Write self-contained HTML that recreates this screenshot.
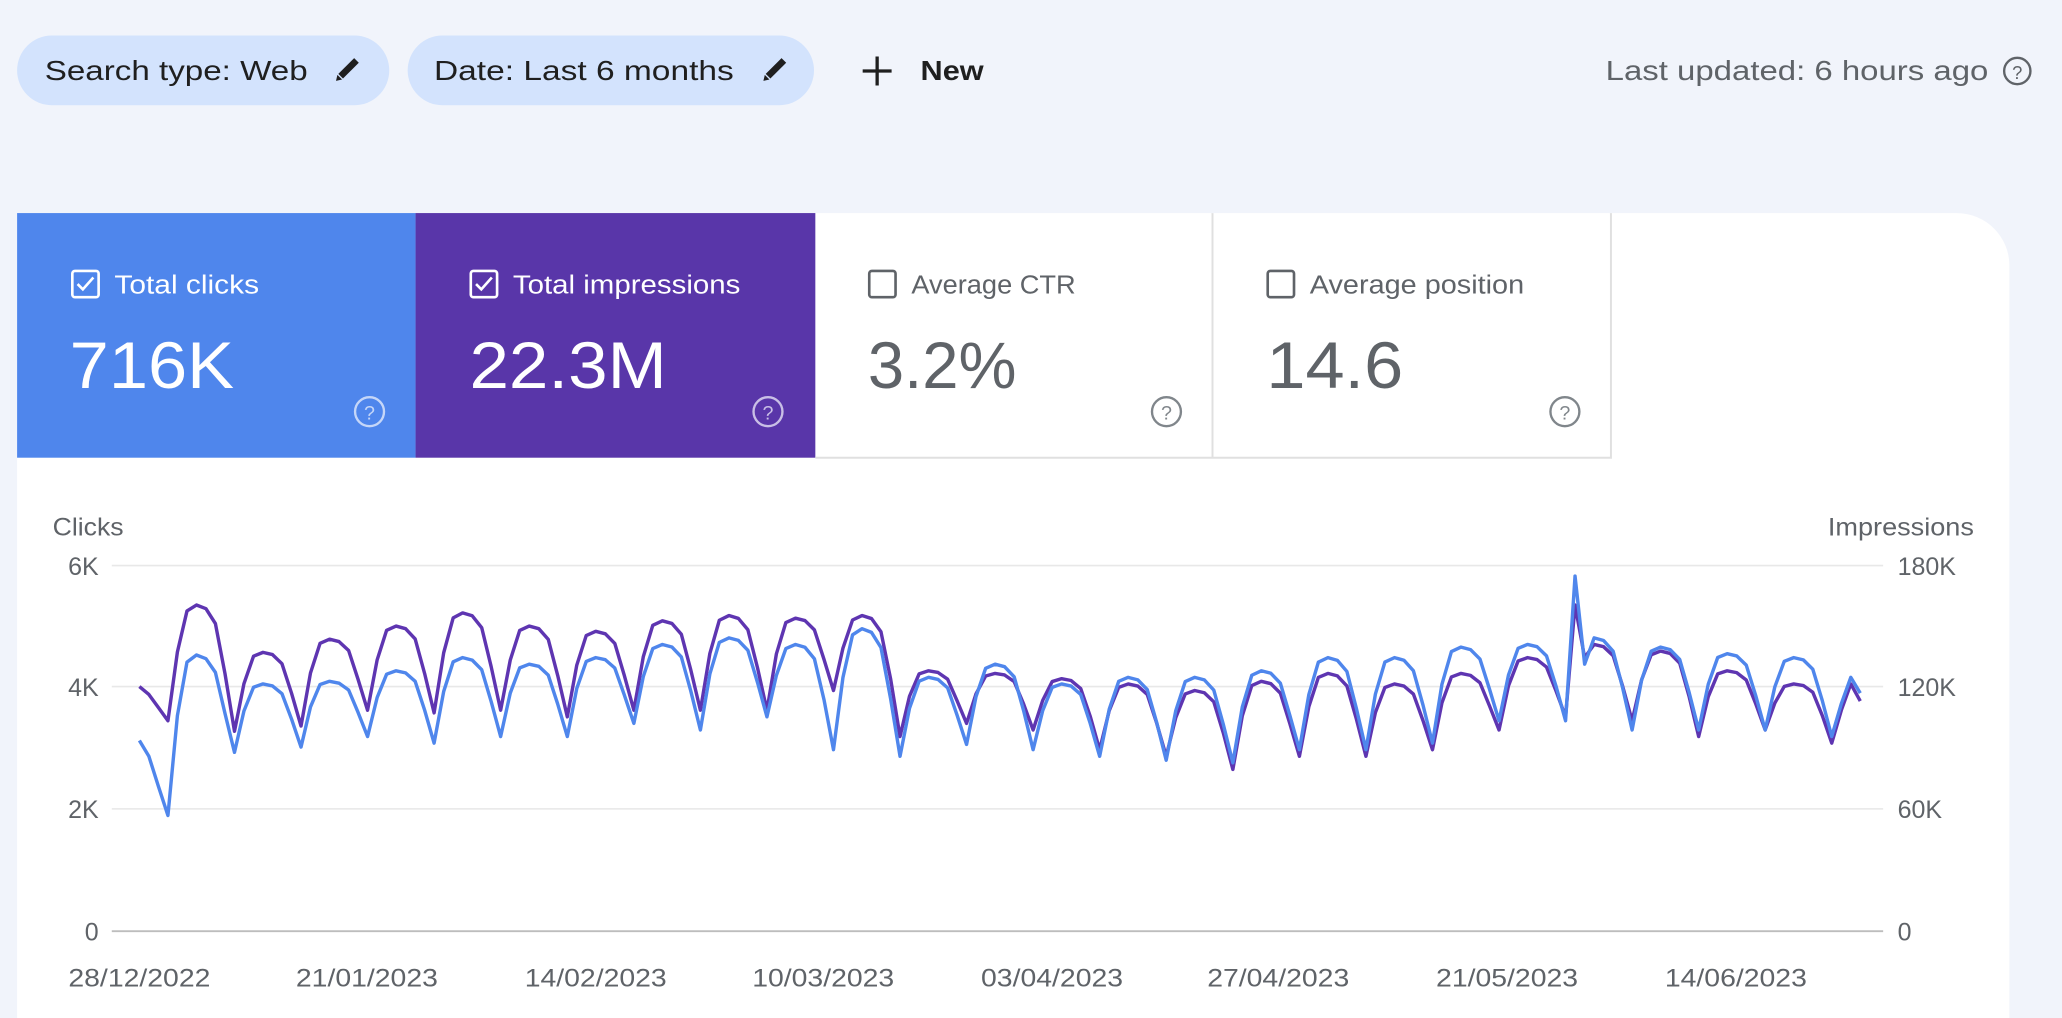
<!DOCTYPE html>
<html><head><meta charset="utf-8"><style>
html,body{margin:0;padding:0;background:#f1f4fb;}
svg{display:block;font-family:"Liberation Sans",sans-serif;}
</style></head><body>
<svg id="s" width="2062" height="1018" viewBox="0 0 1568 774" preserveAspectRatio="none" xmlns="http://www.w3.org/2000/svg">
<rect width="1568" height="774" fill="#f1f4fb"/>
<rect x="13" y="27" width="283" height="53" rx="26.5" fill="#d3e3fd"/>
<text x="34" y="61" font-size="21" fill="#1f1f1f" textLength="200" lengthAdjust="spacingAndGlyphs">Search type: Web</text>
<g transform="translate(264,53) rotate(45)"><rect x="-2.5" y="-10" width="5" height="17" fill="#1f1f1f"/><polygon points="-2.5,8 2.5,8 0,12" fill="#1f1f1f"/></g>
<rect x="310" y="27" width="309" height="53" rx="26.5" fill="#d3e3fd"/>
<text x="330" y="61" font-size="21" fill="#1f1f1f" textLength="228" lengthAdjust="spacingAndGlyphs">Date: Last 6 months</text>
<g transform="translate(589,53) rotate(45)"><rect x="-2.5" y="-10" width="5" height="17" fill="#1f1f1f"/><polygon points="-2.5,8 2.5,8 0,12" fill="#1f1f1f"/></g>
<path d="M667 43v22M656 54h22" stroke="#1f1f1f" stroke-width="2.5"/>
<text x="700" y="61" font-size="21" fill="#1f1f1f" font-weight="bold" textLength="48" lengthAdjust="spacingAndGlyphs">New</text>
<text x="1221" y="61" font-size="21" fill="#5f6368" textLength="291" lengthAdjust="spacingAndGlyphs">Last updated: 6 hours ago</text>
<circle cx="1534" cy="54" r="10" fill="none" stroke="#5f6368" stroke-width="1.8"/><text x="1534" y="60" font-size="14" fill="#5f6368" text-anchor="middle">?</text>

<path d="M13 162H1488a40 40 0 0 1 40 40V774H13Z" fill="#fff"/>
<rect x="13" y="162" width="303" height="186" fill="#4f86ec"/>
<rect x="316" y="162" width="304" height="186" fill="#5936a9"/>
<path d="M620 348H1225V162M922 162V348" stroke="#e0e0e0" stroke-width="1.5" fill="none"/>
<g font-size="20">
<rect x="55" y="206" width="20" height="20" rx="2" fill="none" stroke="#fff" stroke-width="2"/><path d="M59 216l4 4 8-9" stroke="#fff" stroke-width="2" fill="none"/>
<text x="87" y="223" fill="#fff" textLength="110" lengthAdjust="spacingAndGlyphs">Total clicks</text>
<rect x="358" y="206" width="20" height="20" rx="2" fill="none" stroke="#fff" stroke-width="2"/><path d="M362 216l4 4 8-9" stroke="#fff" stroke-width="2" fill="none"/>
<text x="390" y="223" fill="#fff" textLength="173" lengthAdjust="spacingAndGlyphs">Total impressions</text>
<rect x="661" y="206" width="20" height="20" rx="2" fill="none" stroke="#5f6368" stroke-width="2"/>
<text x="693" y="223" fill="#5f6368" textLength="125" lengthAdjust="spacingAndGlyphs">Average CTR</text>
<rect x="964" y="206" width="20" height="20" rx="2" fill="none" stroke="#5f6368" stroke-width="2"/>
<text x="996" y="223" fill="#5f6368" textLength="163" lengthAdjust="spacingAndGlyphs">Average position</text>
</g>
<g font-size="50">
<text x="53" y="295" fill="#fff" textLength="125" lengthAdjust="spacingAndGlyphs">716K</text>
<text x="357" y="295" fill="#fff" textLength="150" lengthAdjust="spacingAndGlyphs">22.3M</text>
<text x="660" y="295" fill="#5f6368" textLength="113" lengthAdjust="spacingAndGlyphs">3.2%</text>
<text x="963" y="295" fill="#5f6368" textLength="104" lengthAdjust="spacingAndGlyphs">14.6</text>
</g>
<g fill="none" stroke-width="1.8">
<circle cx="281" cy="313" r="11" stroke="#c5d6f8"/><circle cx="584" cy="313" r="11" stroke="#c9bfe6"/>
<circle cx="887" cy="313" r="11" stroke="#80868b"/><circle cx="1190" cy="313" r="11" stroke="#80868b"/>
</g>
<g font-size="15" text-anchor="middle">
<text x="281" y="319" fill="#c5d6f8">?</text><text x="584" y="319" fill="#c9bfe6">?</text>
<text x="887" y="319" fill="#80868b">?</text><text x="1190" y="319" fill="#80868b">?</text>
</g>

<g font-size="19" fill="#5f6368">
<text x="40" y="407" textLength="54" lengthAdjust="spacingAndGlyphs">Clicks</text>
<text x="1390" y="407" textLength="111" lengthAdjust="spacingAndGlyphs">Impressions</text>
<g text-anchor="end"><text x="75" y="437">6K</text><text x="75" y="529">4K</text><text x="75" y="622">2K</text><text x="75" y="715">0</text></g>
<text x="1443" y="437">180K</text><text x="1443" y="529">120K</text><text x="1443" y="622">60K</text><text x="1443" y="715">0</text>
<g lengthAdjust="spacingAndGlyphs">
<text x="52" y="750" textLength="108" lengthAdjust="spacingAndGlyphs">28/12/2022</text>
<text x="225" y="750" textLength="108" lengthAdjust="spacingAndGlyphs">21/01/2023</text>
<text x="399" y="750" textLength="108" lengthAdjust="spacingAndGlyphs">14/02/2023</text>
<text x="572" y="750" textLength="108" lengthAdjust="spacingAndGlyphs">10/03/2023</text>
<text x="746" y="750" textLength="108" lengthAdjust="spacingAndGlyphs">03/04/2023</text>
<text x="918" y="750" textLength="108" lengthAdjust="spacingAndGlyphs">27/04/2023</text>
<text x="1092" y="750" textLength="108" lengthAdjust="spacingAndGlyphs">21/05/2023</text>
<text x="1266" y="750" textLength="108" lengthAdjust="spacingAndGlyphs">14/06/2023</text>
</g>
</g>
<g stroke="#e8e8e8" stroke-width="1.2"><path d="M85 430H1432M85 522H1432M85 615H1432"/></g>
<path d="M85 708H1432" stroke="#bdbdbd" stroke-width="1.5"/>
<polyline id="pp" fill="none" stroke="#5e35b1" stroke-width="2.6" stroke-linejoin="round"/>
<polyline id="bb" fill="none" stroke="#4f86ec" stroke-width="2.6" stroke-linejoin="round"/>
</svg>
<script>
var P=[460,496,486,476,466,476,480,472,468,470,468,510,512,516,520,525,518,512,520,512,500,490,495,510,520,530];
var T=[548,556,552,540,542,540,545,540,540,540,525,560,550,555,570,575,585,575,575,570,555,545,548,560,555,565,565];
var BP=[498,520,518,510,500,505,500,490,485,490,478,515,505,520,515,515,510,500,500,492,490,485,492,497,500,508];
var BT=[620,572,568,560,565,560,560,550,555,545,570,575,566,570,575,578,580,570,570,565,548,548,555,555,555,560,560];
var f=[0,0.6,0.95,1,0.97,0.85,0.45];
function val(i,Pk,Tk){
  var d=i-3,k=Math.floor(d/7),j=d-7*k;
  var a=Tk[k],b=Tk[k+1],base=a+(b-a)*j/7;
  return base+(Pk[k]-base)*f[j];
}
var pp=[],bb=[];
for(var i=0;i<=181;i++){
  var x=106+i*7.23,p,b;
  if(i<3){p=[522,528,538][i];b=[563,575,598][i];}
  else if(i>178){p=[540,520,533][i-179];b=[535,515,527][i-179];}
  else{p=val(i,P,T);b=val(i,BP,BT);}
  if(i==151){p=460;b=438;}
  if(i==152){p=500;b=505;}
  pp.push(x.toFixed(1)+","+p.toFixed(1));bb.push(x.toFixed(1)+","+b.toFixed(1));
}
document.getElementById("pp").setAttribute("points",pp.join(" "));
document.getElementById("bb").setAttribute("points",bb.join(" "));
</script>
</body></html>
